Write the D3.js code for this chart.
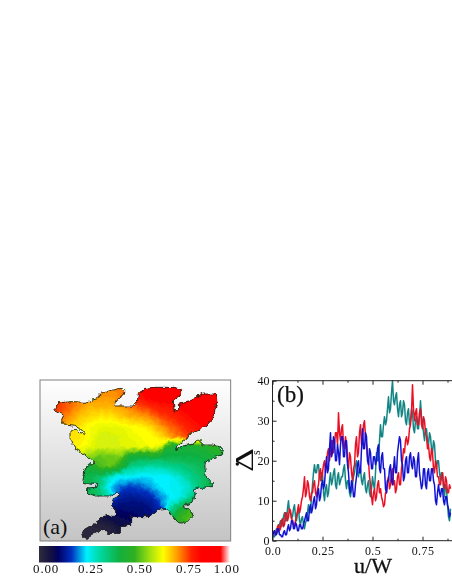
<!DOCTYPE html>
<html><head><meta charset="utf-8">
<script src="https://cdn.jsdelivr.net/npm/d3@7"></script>
<style>
html,body{margin:0;padding:0;background:#fff;overflow:hidden}
svg{display:block;filter:blur(0.5px)}
text{font-family:"Liberation Serif",serif;fill:#111}
</style></head><body>
<svg id="c" width="452" height="585"></svg>
<script>
// ---- Panel (b) series, sampled every 0.005 in u/W ----
const redValues = [1.5,2,2.5,1.5,2,3.5,4,2.5,3,5,5.5,3.5,4,7,7,5,6,8,7.5,5.5,
5,4,3.5,5,6,7.5,9,7,8,10,11,13,16,11,12,15,14,11,10,12,
12,14,15,12,11,13,14,17,18,15,17,19,20,17,19,22,23,20,22,25,
25,22,24,27,27,24,32,27,25,28,29,24,23,26,24,20,18,22,21,17,
15,18,19,24,26,21,22,27,29,24,25,29,30,26,24,21,20,16,14,11,
9,12,13,10,11,14,15,12,13,11,10,8.5,9,12,12,15,16,13,14,17,
18,14,15,12,13,16,17,14,14,18,20,23,22,25,26,24,25,28,29,32,
39,33,30,32,33,29,29,32,33,29,28,31,30,27,26,23,24,21,20,23,
22,18,17,20,19,16,16,14,14,16,17,14,13,16,15,12,12,14,13];
const blueValues = [1,2,2.5,1.5,1.5,3,3,1.5,1.5,1,1,2,2.5,1.5,1.5,3,4,2.5,3,5,
5,3,3,4.5,4,2.5,2.5,4,4,3,3,4,5,6,7,5,5,8,9,7,
8,10,11,8,9,12,13,10,11,14,15,13,14,18,21,17,18,23,27,21,
22,26,25,20,20,24,22,19,24,26,26,21,21,25,25,19,17,13,12,15,
14,11,11,14,16,19,20,17,17,23,28,23,23,27,26,20,19,23,22,18,
18,21,21,19,20,23,24,18,17,21,22,18,18,13,12,15,15,18,19,15,
14,18,21,17,17,22,24,26,25,20,19,15,16,20,21,17,17,21,22,19,
18,21,20,16,16,20,22,17,15,13,14,18,18,14,13,17,18,15,15,18,
18,15,14,10,9,12,14,12,11,13,13,10,9,11,11,9,8,6,7];
const tealValues = [1.5,1,1,2,3,2,2.5,4,5,3.5,4,6,7,5,5,8,10,7,7,5.5,
6,8,9,6,5,7,8,5,4,5.5,6,4,3,4.5,5,7,9,7,7,11,
14,17,19,17,17,19,19,16,15,17,17,12,10,13,14,11,12,15,17,14,
15,17,18,14,13,16,17,14,15,16,16,18,19,15,13,15,15,12,11,13,
14,16,17,19,20,17,16,18,18,15,14,16,17,13,12,14,15,12,11,13,
16,14,13,17,22,20,20,25,29,26,26,29,31,29,30,33,36,32,33,37,
40,35,34,36,37,33,31,34,35,31,32,35,34,30,29,32,33,29,30,33,
32,28,27,30,31,28,28,31,35,31,30,27,25,28,28,25,24,27,26,23,
22,25,24,20,18,20,20,17,15,17,17,13,11,14,13,9,6,5,8];
const xTicks = [0,0.25,0.5,0.75];
const xTickLabels = ["0.0","0.25","0.5","0.75"];
const xMinor = [0.125,0.375,0.625,0.875];
const yTicks = [0,10,20,30,40];
const yMinor = [5,15,25,35];

// ---- Panel (a) colour scale ----
const cbPositions = [0,0.06,0.1,0.17,0.25,0.32,0.42,0.5,0.58,0.65,0.72,0.8,0.85,0.95,1];
const cbColors = ["#2e2c3e","#14123f","#000060","#0030c0","#00f0ff","#00d8a0","#10b040","#30b020","#a0e010","#ffff00","#ffa000","#ff2000","#ff0000","#ff0000","#ffffff"];
const cbLabels = ["0.00","0.25","0.50","0.75","1.00"];
const cbLabelAt = [0.037,0.272,0.528,0.785,0.983];

// ---- Panel (a) outline (map units) ----
const outline = [[75,112],[88,98],[130,95],[165,97],[205,85],[212,70],[240,62],[270,55],[285,62],[278,75],[262,88],[255,108],[310,108],[322,95],[325,72],[345,55],[380,52],[430,52],[455,58],[450,75],[430,90],[432,122],[446,122],[445,103],[480,95],[495,80],[520,72],[555,72],[562,95],[555,115],[552,140],[540,155],[510,180],[480,190],[470,205],[440,230],[438,240],[460,228],[490,222],[505,210],[520,225],[550,225],[568,230],[582,245],[575,255],[545,265],[525,280],[525,300],[530,325],[550,340],[545,350],[510,352],[490,360],[495,375],[490,395],[465,405],[460,412],[488,428],[485,440],[465,460],[445,458],[430,440],[408,415],[385,418],[380,425],[355,440],[305,440],[305,465],[272,470],[270,490],[232,490],[225,478],[205,485],[170,505],[155,495],[160,482],[205,455],[215,440],[235,435],[255,440],[258,425],[245,405],[250,385],[270,375],[262,365],[245,378],[195,378],[170,370],[170,358],[195,355],[200,340],[158,338],[165,300],[175,283],[195,280],[178,265],[165,255],[135,235],[120,205],[120,180],[140,178],[150,190],[162,195],[165,190],[145,170],[105,165],[95,150],[100,135],[75,120]];
// field rows: y = 50,80,...,500 ; columns: x = 60,90,...,600
const fieldRows = [
[.75,.75,.75,.75,.74,.74,.74,.75,.78,.84,.87,.88,.88,.88,.9,.96,.98,.98,.98],
[.78,.78,.76,.74,.73,.73,.73,.74,.78,.83,.86,.87,.87,.87,.89,.92,.95,.93,.93],
[.8,.79,.76,.73,.71,.71,.71,.72,.75,.78,.8,.82,.83,.85,.87,.88,.88,.88,.88],
[.76,.76,.73,.7,.68,.67,.67,.69,.71,.72,.74,.78,.8,.82,.84,.86,.87,.87,.87],
[.72,.72,.7,.67,.65,.64,.64,.64,.65,.66,.68,.72,.76,.79,.82,.84,.85,.85,.85],
[.69,.69,.68,.67,.65,.62,.62,.63,.64,.65,.65,.68,.72,.76,.79,.8,.8,.8,.8],
[.67,.67,.67,.66,.64,.62,.62,.63,.63,.64,.65,.63,.44,.44,.44,.46,.48,.5,.5],
[.62,.62,.62,.6,.57,.54,.55,.56,.45,.43,.44,.43,.42,.42,.42,.42,.44,.46,.46],
[.5,.5,.5,.48,.44,.52,.54,.47,.35,.33,.31,.32,.34,.36,.38,.4,.42,.42,.42],
[.42,.42,.42,.42,.41,.38,.29,.26,.26,.25,.25,.25,.26,.29,.34,.38,.41,.42,.42],
[.42,.42,.42,.42,.41,.36,.24,.2,.18,.19,.22,.25,.26,.27,.3,.37,.42,.42,.42],
[.41,.41,.41,.41,.41,.38,.3,.15,.14,.15,.16,.21,.25,.27,.33,.4,.42,.42,.42],
[.12,.12,.12,.12,.12,.12,.13,.12,.12,.12,.13,.17,.3,.4,.5,.5,.5,.5,.5],
[.05,.05,.05,.05,.05,.07,.08,.09,.1,.11,.12,.15,.42,.5,.53,.53,.53,.53,.53],
[.02,.02,.02,.02,.02,.02,.03,.07,.07,.07,.1,.12,.42,.5,.53,.53,.5,.5,.5],
[.01,.01,.01,.01,.01,.01,.02,.05,.05,.05,.08,.1,.4,.5,.5,.5,.5,.5,.5]
];
const fieldLevels = d3.range(0,1.0,0.01);

const svg = d3.select("#c");
const defs = svg.append("defs");
const color = d3.scaleLinear().domain(cbPositions).range(cbColors).clamp(true);

// ================= Panel (a) =================
const mx = d3.scaleLinear().domain([0,630]).range([30,240]);
const my = d3.scaleLinear().domain([0,630]).range([370,580]);
const bg = defs.append("linearGradient").attr("id","bg").attr("x1",0).attr("x2",0).attr("y1",0).attr("y2",1);
bg.append("stop").attr("offset",0).attr("stop-color","#ffffff");
bg.append("stop").attr("offset",1).attr("stop-color","#c4c4c4");
svg.append("rect").attr("x",mx(30)).attr("y",my(30)).attr("width",mx(602)-mx(30)).attr("height",my(513)-my(30))
  .attr("fill","url(#bg)").attr("stroke","#808080").attr("stroke-width",1);

// rough cell-boundary edge
const rough = defs.append("filter").attr("id","rough").attr("x","-5%").attr("y","-5%").attr("width","110%").attr("height","110%");
rough.append("feTurbulence").attr("type","fractalNoise").attr("baseFrequency",0.22).attr("numOctaves",2).attr("seed",4).attr("result","n");
rough.append("feDisplacementMap").attr("in","SourceGraphic").attr("in2","n").attr("scale",5).attr("xChannelSelector","R").attr("yChannelSelector","G");

const line2 = d3.line().x(d=>mx(d[0])).y(d=>my(d[1])).curve(d3.curveLinearClosed);
defs.append("clipPath").attr("id","shape").append("path").attr("d",line2(outline));
const nx = fieldRows[0].length, ny = fieldRows.length;
const flat = fieldRows.flat();
const gx = d3.scaleLinear().domain([0.5,nx-0.5]).range([60,600]);
const gy = d3.scaleLinear().domain([0.5,ny-0.5]).range([50,500]);
const contours = d3.contours().size([nx,ny]).smooth(true).thresholds(fieldLevels)(flat);
const gp = d3.geoPath(d3.geoTransform({point(x,y){this.stream.point(mx(gx(x)),my(gy(y)));}}));
const gRough = svg.append("g").attr("filter","url(#rough)");
const gMap = gRough.append("g").attr("clip-path","url(#shape)");
gMap.append("rect").attr("x",mx(30)).attr("y",my(30)).attr("width",mx(602)-mx(30)).attr("height",my(513)-my(30)).attr("fill",color(0));
gMap.selectAll("path").data(contours).join("path").attr("d",gp).attr("fill",d=>color(d.value));
gRough.append("path").attr("d",line2(outline)).attr("fill","none").attr("stroke","#262626").attr("stroke-width",0.9);
svg.append("text").attr("x",43).attr("y",534).attr("font-size",22).text("(a)");
svg.append("path").attr("d",d3.symbol(d3.symbolCircle,9)()).attr("transform",`translate(${mx(622)},${my(282)})`).attr("fill","#111");

// colour bar
const cbx = d3.scaleLinear().domain([0,1]).range([39,230]);
const cg = defs.append("linearGradient").attr("id","cb");
cbPositions.forEach((p,i)=>cg.append("stop").attr("offset",p).attr("stop-color",cbColors[i]));
svg.append("rect").attr("x",cbx(0)).attr("y",546).attr("width",cbx(1)-cbx(0)).attr("height",16.5).attr("fill","url(#cb)");
svg.selectAll("text.cb").data(cbLabels).join("text").attr("class","cb")
  .attr("x",(d,i)=>cbx(cbLabelAt[i])).attr("y",573).attr("text-anchor","middle")
  .attr("font-size",13).attr("letter-spacing",0.8).text(d=>d);

// ================= Panel (b) =================
const x = d3.scaleLinear().domain([0,0.89]).range([272.5,450.5]);
const y = d3.scaleLinear().domain([0,40]).range([540.7,380.7]);
const frameRight = 455;
defs.append("clipPath").attr("id","plot").append("rect").attr("x",272.5).attr("y",380).attr("width",190).attr("height",161);

const line = d3.line().x((d,i)=>x(i*0.005)).y(d=>y(d));
const gLines = svg.append("g").attr("clip-path","url(#plot)");
[[tealValues,"#128484"],[redValues,"#ea1024"],[blueValues,"#1212d4"]].forEach(([v,c])=>{
  gLines.append("path").attr("d",line(v)).attr("fill","none").attr("stroke",c).attr("stroke-width",1.5).attr("stroke-linejoin","round");
});

const frame = svg.append("g").attr("fill","none").attr("stroke","#222");
frame.append("path").attr("d",`M${frameRight},${y(40)}H${x(0)}V${y(0)}H${frameRight}`).attr("stroke-width",1);

function styleAxis(g){ g.select(".domain").remove(); g.selectAll("line").attr("stroke","#222"); g.selectAll("text").attr("font-size",12).attr("font-family","Liberation Serif"); }
svg.append("g").attr("transform",`translate(0,${y(0)})`)
  .call(d3.axisBottom(x).tickValues(xTicks).tickSize(-4).tickPadding(6).tickFormat((d,i)=>xTickLabels[i])).call(styleAxis)
  .selectAll("text").attr("letter-spacing",0.4);
svg.append("g").attr("transform",`translate(0,${y(0)})`)
  .call(d3.axisBottom(x).tickValues(xMinor).tickSize(-2).tickFormat("")).call(styleAxis);
svg.append("g").attr("transform",`translate(0,${y(40)})`)
  .call(d3.axisTop(x).tickValues(xTicks).tickSize(-4).tickFormat("")).call(styleAxis);
svg.append("g").attr("transform",`translate(0,${y(40)})`)
  .call(d3.axisTop(x).tickValues(xMinor).tickSize(-2).tickFormat("")).call(styleAxis);
svg.append("g").attr("transform",`translate(${x(0)},0)`)
  .call(d3.axisLeft(y).tickValues(yTicks).tickSize(-4).tickPadding(3)).call(styleAxis);
svg.append("g").attr("transform",`translate(${x(0)},0)`)
  .call(d3.axisLeft(y).tickValues(yMinor).tickSize(-2).tickFormat("")).call(styleAxis);

svg.append("text").attr("x",277).attr("y",402).attr("font-size",23).attr("stroke","#111").attr("stroke-width",0.25).text("(b)");
svg.append("text").attr("x",373).attr("y",573).attr("text-anchor","middle").attr("font-size",22).attr("stroke","#111").attr("stroke-width",0.3).text("u/W");
const yl = svg.append("g").attr("transform","translate(253,472) rotate(-90)");
yl.append("text").attr("x",0).attr("y",0).attr("font-size",25).attr("textLength",24).attr("lengthAdjust","spacingAndGlyphs").text("Δ");
yl.append("text").attr("x",17).attr("y",7).attr("font-size",12).text("s");
</script>
</body></html>
